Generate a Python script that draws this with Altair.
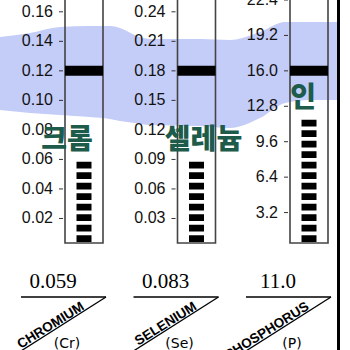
import altair as alt
import pandas as pd

# ---------------- data ----------------
elements = ["CHROMIUM", "SELENIUM", "PHOSPHORUS"]
symbols = ["(Cr)", "(Se)", "(P)"]
korean = ["크롬", "셀레늄", "인"]
values = [0.059, 0.083, 11.0]
value_labels = ["0.059", "0.083", "11.0"]
reference = [0.12, 0.18, 16.0]
scale_max = [0.168, 0.252, 22.4]
tick_labels = [
    ["0.02", "0.04", "0.06", "0.08", "0.10", "0.12", "0.14", "0.16"],
    ["0.03", "0.06", "0.09", "0.12", "0.15", "0.18", "0.21", "0.24"],
    ["3.2", "6.4", "9.6", "12.8", "16.0", "19.2", "22.4"],
]
# decorative blue band (slot units / fraction of gauge height)
band_pos = [-0.747, -0.48, -0.213, 0.053, 0.231, 0.32, 0.45, 0.587, 1.031, 1.298, 1.564, 1.787, 2.009, 2.249]
band_top = [0.851, 0.867, 0.891, 0.895, 0.895, 0.887, 0.859, 0.843, 0.843, 0.839, 0.871, 0.911, 0.911, 0.911]
band_bottom = [0.556, 0.544, 0.536, 0.528, 0.520, 0.512, 0.504, 0.496, 0.492, 0.484, 0.524, 0.585, 0.597, 0.597]

# ---------------- layout ----------------
W, H = 350, 350
PX = 112.5      # pixels per gauge slot
C0 = 84.0       # pixel centre of first gauge
ZERO = 248.0    # pixel row of gauge zero
HALF = 19.0     # half gauge width (px)
DASH, GAP = 6.7, 3.8
KO_DX = [-17, 7, -6]
SLOPE = 0.635   # slope of the diagonal label rule
LINE_Y = 297
BLUE = "#c4ccf8"
TEAL = "#1d5b4b"

X = alt.Scale(domain=[-C0 / PX, (W - C0) / PX], nice=False, zero=False)
Y = alt.Scale(domain=[-(H - ZERO) / ZERO, 1.0], nice=False, zero=False)

def px(d):
    return d / PX

rows = []
for i in range(3):
    fv = values[i] / scale_max[i]
    n = round(fv * ZERO / (DASH + GAP))
    fb = 6.0 / ZERO
    rows.append(dict(
        slot=i, el=elements[i], sym=symbols[i], ko=korean[i],
        vlab=value_labels[i],
        fref=reference[i] / scale_max[i],
        fdb=fb, fdt=fb + (n * (DASH + GAP) - GAP) / ZERO,
        xl=i - px(HALF), xr=i + px(HALF),
        rb=5.0 / ZERO, rt=1.05,
        xko=i + px(KO_DX[i]),
        xval=i + px(-31), hl=i + px(-63), hr=i + px(22),
        dl=i + px(22 - 95), xname=i + px(1), xsym=i + px(-17),
    ))
cols = pd.DataFrame(rows)

trows = []
for i, labs in enumerate(tick_labels):
    for lab in labs:
        trows.append(dict(slot=i, lab=lab, f=float(lab) / scale_max[i],
                          t0=i - px(HALF + 6), t1=i - px(HALF + 2),
                          tl=i - px(HALF + 12)))
ticks = pd.DataFrame(trows)

band = pd.DataFrame({"bx": band_pos, "bt": band_top, "bb": band_bottom})

base_x = lambda f: alt.X(f, scale=X, axis=None, title=None)
base_y = lambda f: alt.Y(f, scale=Y, axis=None, title=None)

band_l = alt.Chart(band).mark_area(color=BLUE, interpolate="monotone", clip=True).encode(
    x=base_x("bx:Q"), y=base_y("bt:Q"), y2="bb:Q")

rect_l = alt.Chart(cols).mark_rect(fill="transparent", stroke="#444444", strokeWidth=1.6, clip=True).encode(
    x=base_x("xl:Q"), x2="xr:Q", y=base_y("rb:Q"), y2="rt:Q")

tick_l = alt.Chart(ticks).mark_rule(color="#333333", strokeWidth=1).encode(
    x=base_x("t0:Q"), x2="t1:Q", y=base_y("f:Q"))

ticklab_l = alt.Chart(ticks).mark_text(align="right", baseline="middle", font="Liberation Sans",
                                       fontSize=16, color="#111111").encode(
    x=base_x("tl:Q"), y=base_y("f:Q"), text="lab:N")

ref_l = alt.Chart(cols).mark_rule(color="black", strokeWidth=10).encode(
    x=base_x("xl:Q"), x2="xr:Q", y=base_y("fref:Q"))

dash_l = alt.Chart(cols).mark_rule(color="black", strokeWidth=15, strokeDash=[DASH, GAP], strokeCap="butt").encode(
    x=base_x("slot:Q"), y=base_y("fdb:Q"), y2="fdt:Q")

ko_l = alt.Chart(cols).mark_text(font="Noto Sans CJK KR", fontWeight=900, fontSize=28,
                                 color=TEAL, baseline="middle", dy=-21).encode(
    x=base_x("xko:Q"), y=base_y("fdt:Q"), text="ko:N")

val_l = alt.Chart(cols).mark_text(font="Liberation Serif", fontSize=21, color="black",
                                  baseline="alphabetic").encode(
    x=base_x("xval:Q"), y=alt.value(288), text="vlab:N")

hline_l = alt.Chart(cols).mark_rule(color="black", strokeWidth=1.3).encode(
    x=base_x("hl:Q"), x2="hr:Q", y=alt.value(LINE_Y))

diag_l = alt.Chart(cols).mark_rule(color="black", strokeWidth=1.3).encode(
    x=base_x("hr:Q"), x2="dl:Q", y=alt.value(LINE_Y), y2=alt.value(LINE_Y + 95 * SLOPE))

name_l = alt.Chart(cols).mark_text(font="Liberation Sans", fontWeight="bold", fontSize=13.5,
                                   color="black", align="right", baseline="alphabetic", angle=328).encode(
    x=base_x("xname:Q"), y=alt.value(LINE_Y + 21 * SLOPE - 1.5), text="el:N")

sym_l = alt.Chart(cols).mark_text(font="DejaVu Sans", fontSize=14, color="black",
                                  baseline="middle").encode(
    x=base_x("xsym:Q"), y=alt.value(344), text="sym:N")

border_l = alt.Chart(pd.DataFrame({"a": [0]})).mark_rule(color="black", strokeWidth=3).encode(
    x=alt.value(338.5), y=alt.value(0), y2=alt.value(350))

chart = alt.layer(
    band_l, rect_l, tick_l, ticklab_l, ref_l, dash_l, ko_l,
    val_l, hline_l, diag_l, name_l, sym_l, border_l,
).properties(
    width=W, height=H, padding=0, background="white",
    autosize=alt.AutoSizeParams(type="none"),
).configure_view(stroke=None)

chart.save("out.html", embed_options={"renderer": "svg", "actions": False})
